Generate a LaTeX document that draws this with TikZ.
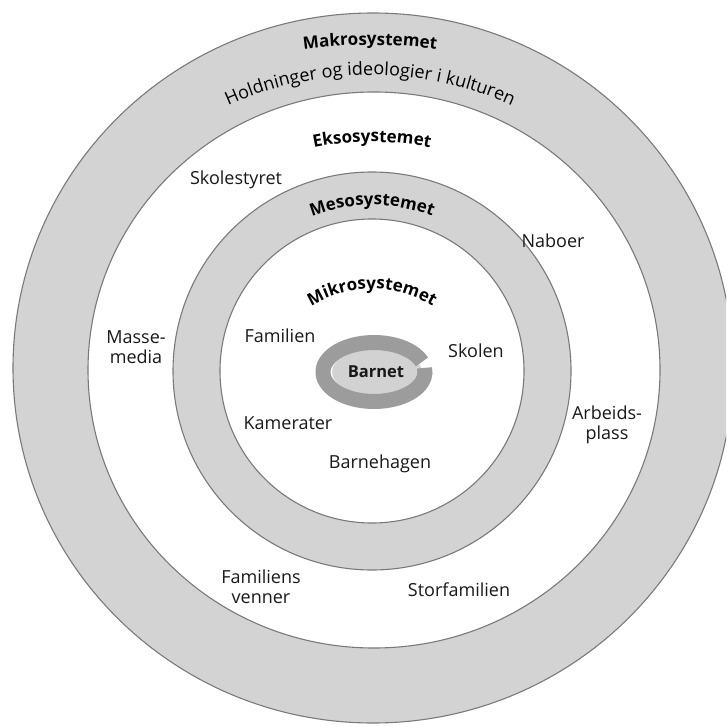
\documentclass[tikz,border=0pt]{standalone}
\usepackage{fontspec}
\setmainfont{Open Sans}
\usetikzlibrary{decorations.text}
\definecolor{ringgray}{HTML}{D3D3D3}
\definecolor{ringedge}{HTML}{7A7A7A}
\definecolor{barndark}{HTML}{9C9C9C}
\definecolor{barnlight}{HTML}{D2D2D2}
\tikzset{
  lbl/.style={font=\fontsize{18}{20}\selectfont, inner sep=0pt, align=center, text=black!90},
  boldlbl/.style={font=\bfseries\fontsize{16.5}{20}\selectfont, inner sep=0pt, text=black!90},
  ringline/.style={draw=ringedge, line width=1.1pt},
}
\begin{document}
\begin{tikzpicture}[x=1pt,y=1pt]
\useasboundingbox (0,0) rectangle (726,-727);
\clip (0,0) rectangle (726,-727);
\fill[white] (0,0) rectangle (726,-727);
% outer ring (Makrosystemet)
\fill[ringgray, even odd rule] (373,-368) ellipse [x radius=360, y radius=355] (374,-370) ellipse [x radius=286, y radius=278];
\draw[ringline] (373,-368) ellipse [x radius=360, y radius=355];
\draw[ringline] (374,-370) ellipse [x radius=286, y radius=278];
% middle ring (Mesosystemet)
\fill[ringgray, even odd rule] (372,-371) circle [radius=199] (372,-371) circle [radius=152];
\draw[ringline] (372,-371) circle [radius=199];
\draw[ringline] (372,-371) circle [radius=152];
% Barnet
\fill[barnlight] (377,-372) ellipse [x radius=45, y radius=23];
\draw[barndark, line width=15pt] ([shift={(374,-372)}]20:51 and 29.5) arc [start angle=20, end angle=368, x radius=51, y radius=29.5];
\node[boldlbl] (barnet) at (376,-372) {Barnet};
% curved titles
\path[decorate, decoration={text along path, text align=center, text={|\bfseries\fontsize{17}{20}\selectfont|Makrosystemet}}]
  ([shift={(370,-545)}]105:500) arc [start angle=105, end angle=75, radius=500];
\path[decorate, decoration={text along path, text align=center, text={|\fontsize{18}{20}\selectfont|Holdninger og ideologier i kulturen}}]
  ([shift={(370,-420)}]125:345) arc [start angle=125, end angle=55, radius=345];
\path[decorate, decoration={text along path, text align=center, text={|\bfseries\fontsize{17}{20}\selectfont|Eksosystemet}}]
  ([shift={(372,-442)}]110:300) arc [start angle=110, end angle=70, radius=300];
\path[decorate, decoration={text along path, text align=center, text={|\bfseries\fontsize{17}{20}\selectfont|Mesosystemet}}]
  ([shift={(372,-371)}]130:166) arc [start angle=130, end angle=50, radius=166];
\path[decorate, decoration={text along path, text align=center, text={|\bfseries\fontsize{17}{20}\selectfont|Mikrosystemet}}]
  ([shift={(372,-405)}]145:116) arc [start angle=145, end angle=35, radius=116];
% labels
\node[lbl] (skolestyret) at (236,-180) {Skolestyret};
\node[lbl] (naboer) at (553,-241) {Naboer};
\node[lbl] (massemedia) at (136,-347) {Masse-\\media};
\node[lbl] (familien) at (280,-336) {Familien};
\node[lbl] (skolen) at (476,-351) {Skolen};
\node[lbl] (kamerater) at (288,-423) {Kamerater};
\node[lbl] (barnehagen) at (380,-464) {Barnehagen};
\node[lbl] (arbeidsplass) at (607,-425) {Arbeids-\\plass};
\node[lbl] (familiensvenner) at (261,-587) {Familiens\\venner};
\node[lbl] (storfamilien) at (459,-590) {Storfamilien};
\end{tikzpicture}
\end{document}
